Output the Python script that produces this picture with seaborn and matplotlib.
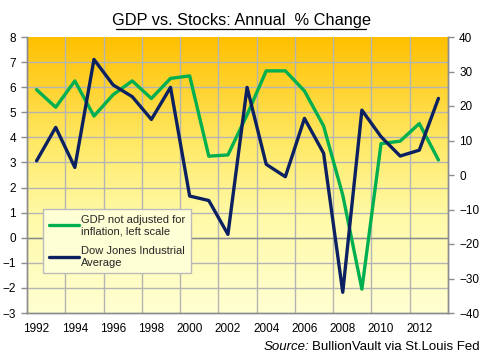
import numpy as np
import pandas as pd
import matplotlib
matplotlib.use("Agg")
import matplotlib.pyplot as plt
import seaborn as sns
from matplotlib.colors import LinearSegmentedColormap
from matplotlib.ticker import MultipleLocator, FixedLocator

years = list(range(1992, 2014))
gdp = [5.9, 5.2, 6.25, 4.85, 5.7, 6.25, 5.55, 6.35, 6.45, 3.25, 3.3, 4.9,
       6.65, 6.65, 5.85, 4.45, 1.7, -2.05, 3.75, 3.85, 4.55, 3.1]
dow = [4.1, 13.8, 2.2, 33.5, 26.1, 22.7, 16.1, 25.4, -6.1, -7.4, -17.2, 25.4,
       3.1, -0.5, 16.4, 6.3, -34.0, 18.8, 11.1, 5.5, 7.2, 22.2]
year_labels = list(range(1992, 2013, 2))

gdp_label = "GDP not adjusted for\ninflation, left scale"
dow_label = "Dow Jones Industrial\nAverage"

df = pd.DataFrame({"year": years, "gdp": gdp, "dow": dow})

sns.set_theme(style="white")
plt.rcParams["font.family"] = ["Liberation Sans", "DejaVu Sans"]

fig = plt.figure(figsize=(4.82, 3.59), dpi=100)
fig.patch.set_facecolor("white")
ax = fig.add_axes([27/482, 1-313/359, (448-27)/482, (313-37)/359])

# gradient background
cmap = LinearSegmentedColormap.from_list(
    "bg", [(0.0, "#FFFFD2"), (0.35, "#FFFAA8"), (0.6, "#FFEA6A"), (1.0, "#FFC000")])
grad = np.linspace(0, 1, 256).reshape(-1, 1)
ax.imshow(grad, cmap=cmap, origin="lower", aspect="auto",
          extent=[1991.5, 2013.5, -3, 8], zorder=0)

ax.set_xlim(1991.5, 2013.5)
ax.set_ylim(-3, 8)

grid_c = "#B4B4B4"
ax.xaxis.set_major_locator(FixedLocator(year_labels))
ax.set_xticklabels([str(y) for y in year_labels])
ax.yaxis.set_major_locator(MultipleLocator(1))
ax.grid(False)
for xv in np.arange(1993.5, 2013, 2):
    ax.axvline(xv, color=grid_c, lw=1, zorder=1)
for yv in range(-2, 8):
    ax.axhline(yv, color=grid_c, lw=1, zorder=1)
ax.axhline(0, color="#8C8C8C", lw=1, zorder=1.5)

sns.lineplot(data=df, x="year", y="gdp", ax=ax, color="#00B050", lw=2.4,
             label=gdp_label, legend=False, zorder=3)

ax2 = ax.twinx()
sns.lineplot(data=df, x="year", y="dow", ax=ax2, color="#0B2161", lw=2.4,
             label=dow_label, legend=False, zorder=3)
ax2.set_ylim(-40, 40)
ax2.yaxis.set_major_locator(MultipleLocator(10))
ax2.set_xlim(1991.5, 2013.5)

for a in (ax, ax2):
    a.set_xlabel("")
    a.set_ylabel("")
    a.spines["top"].set_visible(False)
    for s in ("left", "right", "bottom"):
        a.spines[s].set_color("#8C8C8C")
        a.spines[s].set_linewidth(1)

ax.tick_params(axis="x", length=0, pad=7, labelsize=8.5, colors="black")
ax.tick_params(axis="y", direction="out", length=4, width=1, color="#8C8C8C",
               labelsize=8.5, labelcolor="black", pad=4, left=True)
ax2.tick_params(axis="y", direction="out", length=4, width=1, color="#8C8C8C",
                labelsize=8.5, labelcolor="black", pad=4, right=True)

h1, l1 = ax.get_legend_handles_labels()
h2, l2 = ax2.get_legend_handles_labels()
leg = ax2.legend(h1 + h2, l1 + l2, loc="upper left",
                 bbox_to_anchor=((43-27)/421, (313-209)/276),
                 fontsize=8, frameon=True, fancybox=False, handlelength=2.7,
                 handletextpad=0.2, borderpad=0.5, labelspacing=0.9,
                 borderaxespad=0)
leg.get_frame().set_facecolor("#FFFFD6")
leg.get_frame().set_edgecolor("#BBBBBB")
leg.get_frame().set_alpha(1)
leg.get_frame().set_linewidth(1)
leg.set_zorder(10)

fig.text(241/482, 1-20/359, "GDP vs. Stocks: Annual  % Change", ha="center",
         va="center", fontsize=11.8, color="black")
fig.add_artist(plt.Line2D([116/482, 366/482], [1-28.5/359, 1-28.5/359],
                          color="black", lw=0.9, transform=fig.transFigure))

t1 = fig.text(0.995, 1-347/359, "BullionVault via St.Louis Fed", ha="right",
              va="center", fontsize=9.5, color="black")
fig.canvas.draw()
bb = t1.get_window_extent()
fig.text(bb.x0 / fig.bbox.width - 0.005, 1-347/359, "Source:", ha="right",
         va="center", fontsize=9.5, style="italic", color="black")

fig.savefig("out.png", dpi=100, facecolor="white")
